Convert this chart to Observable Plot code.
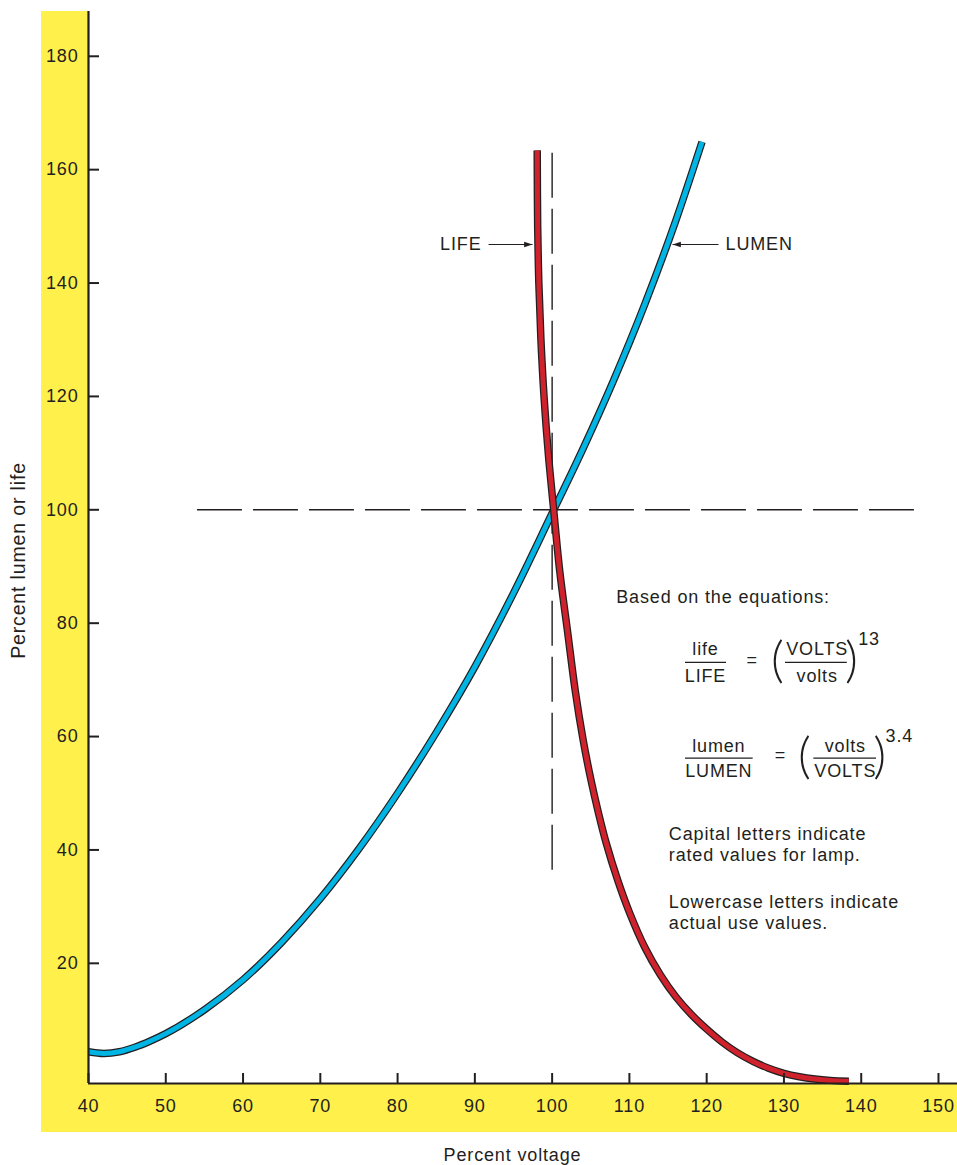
<!DOCTYPE html>
<html>
<head>
<meta charset="utf-8">
<script src="https://cdn.jsdelivr.net/npm/d3@7"></script>
<script src="https://cdn.jsdelivr.net/npm/@observablehq/plot@0.6"></script>
<style>
  html, body { margin: 0; padding: 0; background: #ffffff; }
  #chart svg text { letter-spacing: 0.85px; }
</style>
</head>
<body>
<div id="chart"></div>
<script>
// ---- data ----
const xTicks = [40, 50, 60, 70, 80, 90, 100, 110, 120, 130, 140, 150];
const yTicks = [20, 40, 60, 80, 100, 120, 140, 160, 180];
const xDomain = [40, 152.46];
const yDomain = [-1.2, 187.9];

// LUMEN curve: percent voltage -> percent lumen
const lumenVolts = [40, 42, 44, 46, 48, 50, 55, 60, 65, 70, 75, 80, 85, 90, 95, 100, 104, 108, 112, 116, 119.4];
const lumenPct   = [4.4, 4.1, 4.4, 5.2, 6.3, 7.6, 11.8, 17.1, 23.7, 31.4, 40.2, 50.0, 60.7, 72.3, 85.3, 99.4, 110.8, 123.0, 136.3, 151.0, 164.9];

// LIFE curve: percent voltage -> percent life
const lifeVolts = [98.07, 98.13, 98.28, 98.55, 98.95, 99.5, 100.2, 101.0, 102.0, 103.0, 104.0, 105.0, 106.0, 107.0, 108.5, 110.0, 112.0, 114.0, 116.0, 118.0, 120.0, 122.0, 124.0, 126.0, 128.0, 130.0, 132.0, 134.0, 136.0, 138.4];
const lifePct   = [163.4, 150.0, 140.0, 130.0, 120.0, 110.0, 100.0, 89.0, 78.5, 68.0, 59.5, 52.5, 46.5, 41.2, 34.6, 29.0, 22.8, 18.0, 14.1, 11.0, 8.4, 6.1, 4.2, 2.7, 1.5, 0.6, 0.0, -0.4, -0.65, -0.8];

// reference (rated) lines at 100 %
const ratedH = {y: 100, x1: 54.1, x2: 146.9};
const ratedV = {x: 100, y1: 162.9, y2: 35.8};

// curve labels with arrows
const lifeLabel  = {name: "LIFE",  tx: 90.86,  ty: 146.8, ax1: 91.77,  ax2: 97.46};
const lumenLabel = {name: "LUMEN", tx: 122.44, ty: 146.8, ax1: 121.53, ax2: 115.58};

// equation block texts
const noteHeading = [{t: "Based on the equations:", x: 108.3, y: 83.5}];
const eqCenterTexts = [
  {t: "life",  x: 119.85, y: 74.3},
  {t: "LIFE",  x: 119.85, y: 69.7},
  {t: "VOLTS", x: 134.3,  y: 74.3},
  {t: "volts", x: 134.3,  y: 69.7},
  {t: "lumen", x: 121.57, y: 57.2},
  {t: "LUMEN", x: 121.57, y: 52.8},
  {t: "volts", x: 137.94, y: 57.2},
  {t: "VOLTS", x: 137.94, y: 52.8}
];
const eqBars = [
  {x1: 117.26, x2: 122.57, y: 73.1},
  {x1: 130.2,  x2: 138.2,  y: 73.1},
  {x1: 117.26, x2: 126.02, y: 56.2},
  {x1: 133.87, x2: 141.98, y: 56.2}
];
const eqSigns = [
  {t: "=", x: 125.9, y: 73.4},
  {t: "=", x: 129.56, y: 56.7}
];
const eqParens = [
  {t: "(", x: 129.2, y: 73.4},
  {t: ")", x: 138.8, y: 73.4},
  {t: "(", x: 132.7, y: 56.45},
  {t: ")", x: 142.45, y: 56.45}
];
const eqExponents = [
  {t: "13",  x: 139.6, y: 76.1},
  {t: "3.4", x: 143.15, y: 59.1}
];
const notes = [
  {t: "Capital letters indicate\nrated values for lamp.", x: 115.1, y: 38.1},
  {t: "Lowercase letters indicate\nactual use values.",   x: 115.1, y: 26.1}
];

const lumen = lumenVolts.map((v, i) => ({volts: v, pct: lumenPct[i]}));
const life = lifeVolts.map((v, i) => ({volts: v, pct: lifePct[i]}));

const INK = "#231f20";
const YELLOW = "#fff04c";
const BLUE = "#00b4e4";
const RED = "#d0222c";
const FONT = "Liberation Sans, Arial, Helvetica, sans-serif";

// narrow filled arrow head pointing right (rotated for left)
const arrowHead = {
  draw(context, size) {
    const s = Math.sqrt(size / Math.PI);
    context.moveTo(s * 1.1, 0);
    context.lineTo(-s * 1.1, -s * 0.7);
    context.lineTo(-s * 1.1, s * 0.7);
    context.closePath();
  }
};

// decorative yellow band behind the axes
function yellowBands(index, scales, values, dims) {
  const {marginLeft, marginTop, marginBottom, width, height} = dims;
  const left = marginLeft - 47, top = marginTop, bottom = height - marginBottom + 49, axisY = height - marginBottom;
  const g = d3.create("svg:g");
  g.append("rect").attr("x", left).attr("y", top).attr("width", marginLeft - left).attr("height", bottom - top).attr("fill", YELLOW);
  g.append("rect").attr("x", left).attr("y", axisY).attr("width", width - left).attr("height", bottom - axisY).attr("fill", YELLOW);
  return g.node();
}

const chart = Plot.plot({
  width: 957,
  height: 1165,
  marginLeft: 88,
  marginRight: 0,
  marginTop: 11,
  marginBottom: 82,
  style: {fontFamily: FONT, fontSize: "18px", color: INK, background: "#ffffff", overflow: "visible"},
  x: {domain: xDomain},
  y: {domain: yDomain},
  marks: [
    yellowBands,
    // rated reference lines
    Plot.ruleY([ratedH], {y: "y", x1: "x1", x2: "x2", stroke: INK, strokeWidth: 1.4, strokeDasharray: "45,11"}),
    Plot.ruleX([ratedV], {x: "x", y1: "y1", y2: "y2", stroke: INK, strokeWidth: 1.4, strokeDasharray: "45,11"}),
    // curves (black outline + colour core)
    Plot.line(lumen, {x: "volts", y: "pct", stroke: INK, strokeWidth: 7.5, curve: "monotone-x", strokeLinecap: "butt"}),
    Plot.line(lumen, {x: "volts", y: "pct", stroke: BLUE, strokeWidth: 5, curve: "monotone-x", strokeLinecap: "butt"}),
    Plot.line(life, {x: "volts", y: "pct", stroke: INK, strokeWidth: 7.5, curve: "catmull-rom", strokeLinecap: "butt"}),
    Plot.line(life, {x: "volts", y: "pct", stroke: RED, strokeWidth: 5, curve: "catmull-rom", strokeLinecap: "butt"}),
    // curve labels
    Plot.link([lifeLabel, lumenLabel], {x1: "ax1", x2: "ax2", y1: "ty", y2: "ty", stroke: INK, strokeWidth: 1.2}),
    Plot.dot([lifeLabel], {x: "ax2", y: "ty", symbol: arrowHead, r: 3.8, fill: INK, stroke: null, dx: -4.2}),
    Plot.dot([lumenLabel], {x: "ax2", y: "ty", symbol: arrowHead, r: 3.8, rotate: 180, fill: INK, stroke: null, dx: 4.2}),
    Plot.text([lifeLabel], {x: "tx", y: "ty", text: "name", textAnchor: "end", lineAnchor: "middle", fill: INK, fontSize: 18}),
    Plot.text([lumenLabel], {x: "tx", y: "ty", text: "name", textAnchor: "start", lineAnchor: "middle", fill: INK, fontSize: 18}),
    // equation block
    Plot.text(noteHeading, {x: "x", y: "y", text: "t", textAnchor: "start", lineAnchor: "bottom", fill: INK, fontSize: 18}),
    Plot.text(eqCenterTexts, {x: "x", y: "y", text: "t", textAnchor: "middle", lineAnchor: "bottom", fill: INK, fontSize: 18}),
    Plot.ruleY(eqBars, {y: "y", x1: "x1", x2: "x2", stroke: INK, strokeWidth: 1.2}),
    Plot.text(eqSigns, {x: "x", y: "y", text: "t", textAnchor: "middle", lineAnchor: "middle", fill: INK, fontSize: 18}),
    Plot.text(eqParens, {x: "x", y: "y", text: "t", textAnchor: "middle", lineAnchor: "middle", fill: INK, fontSize: 50, fontFamily: "Lato, Liberation Sans, sans-serif", fontWeight: 300}),
    Plot.text(eqExponents, {x: "x", y: "y", text: "t", textAnchor: "start", lineAnchor: "bottom", fill: INK, fontSize: 18}),
    Plot.text(notes, {x: "x", y: "y", text: "t", textAnchor: "start", lineAnchor: "bottom", lineHeight: 1.15, fill: INK, fontSize: 18}),
    // axes
    Plot.axisX({ticks: xTicks, tickSize: -10, tickPadding: 26, label: null, strokeWidth: 2, stroke: INK, fill: INK}),
    Plot.axisY({ticks: yTicks, tickSize: -11, tickPadding: 21, label: null, strokeWidth: 2, stroke: INK, fill: INK}),
    Plot.ruleX([xDomain[0]], {stroke: INK, strokeWidth: 2.2}),
    Plot.ruleY([yDomain[0]], {stroke: INK, strokeWidth: 2.2}),
    Plot.text(["Percent voltage"], {text: d => d, frameAnchor: "bottom", dx: -10.5, dy: 72, textAnchor: "middle", lineAnchor: "middle", fill: INK, fontSize: 18}),
    Plot.text(["Percent lumen or life"], {text: d => d, frameAnchor: "left", dx: -70, dy: 13, rotate: -90, textAnchor: "middle", lineAnchor: "middle", fill: INK, fontSize: 19.5})
  ]
});
document.getElementById("chart").appendChild(chart);
</script>
</body>
</html>
